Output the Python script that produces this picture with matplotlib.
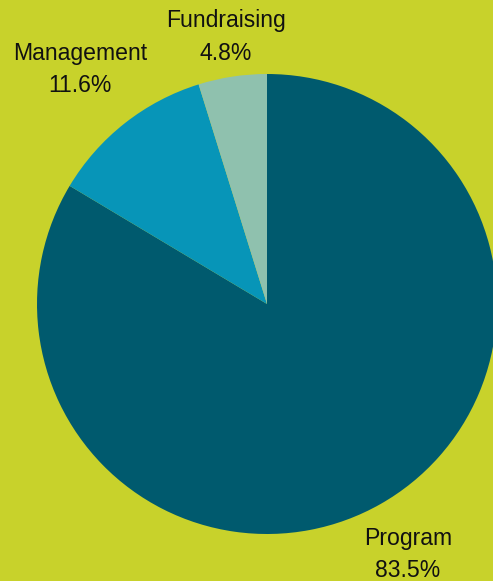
import matplotlib
matplotlib.use("Agg")
import matplotlib.pyplot as plt

# expense split
labels = ["Program", "Management", "Fundraising"]
shares = [83.5, 11.6, 4.8]
colors = ["#005a6e", "#0795b8", "#8fc1ae"]
BG = "#c8d22b"

# label anchor points (pixels, from top-left) for name line and percent line
label_x = [408, 80, 226]
name_y = [545, 60, 27]
pct_y = [577, 92, 60]

W, H = 493, 581
plt.rcParams["font.family"] = ["Liberation Sans", "DejaVu Sans"]
fig = plt.figure(figsize=(W / 100, H / 100), dpi=100, facecolor=BG)
ax = fig.add_axes([0, 0, 1, 1])
ax.set_facecolor(BG)

ax.pie(shares, colors=colors, startangle=90, counterclock=False,
       radius=230, center=(267, H - 304), wedgeprops=dict(linewidth=0))

for lab, v, x, yn, yp in zip(labels, shares, label_x, name_y, pct_y):
    ax.text(x, H - yn, lab, ha="center", va="baseline", fontsize=16.6, color="#111111")
    ax.text(x, H - yp, f"{v}%", ha="center", va="baseline", fontsize=16.6, color="#111111")

ax.set_xlim(0, W); ax.set_ylim(0, H)
ax.set_aspect("equal")
ax.axis("off")
fig.savefig("out.png", dpi=100, facecolor=BG)
